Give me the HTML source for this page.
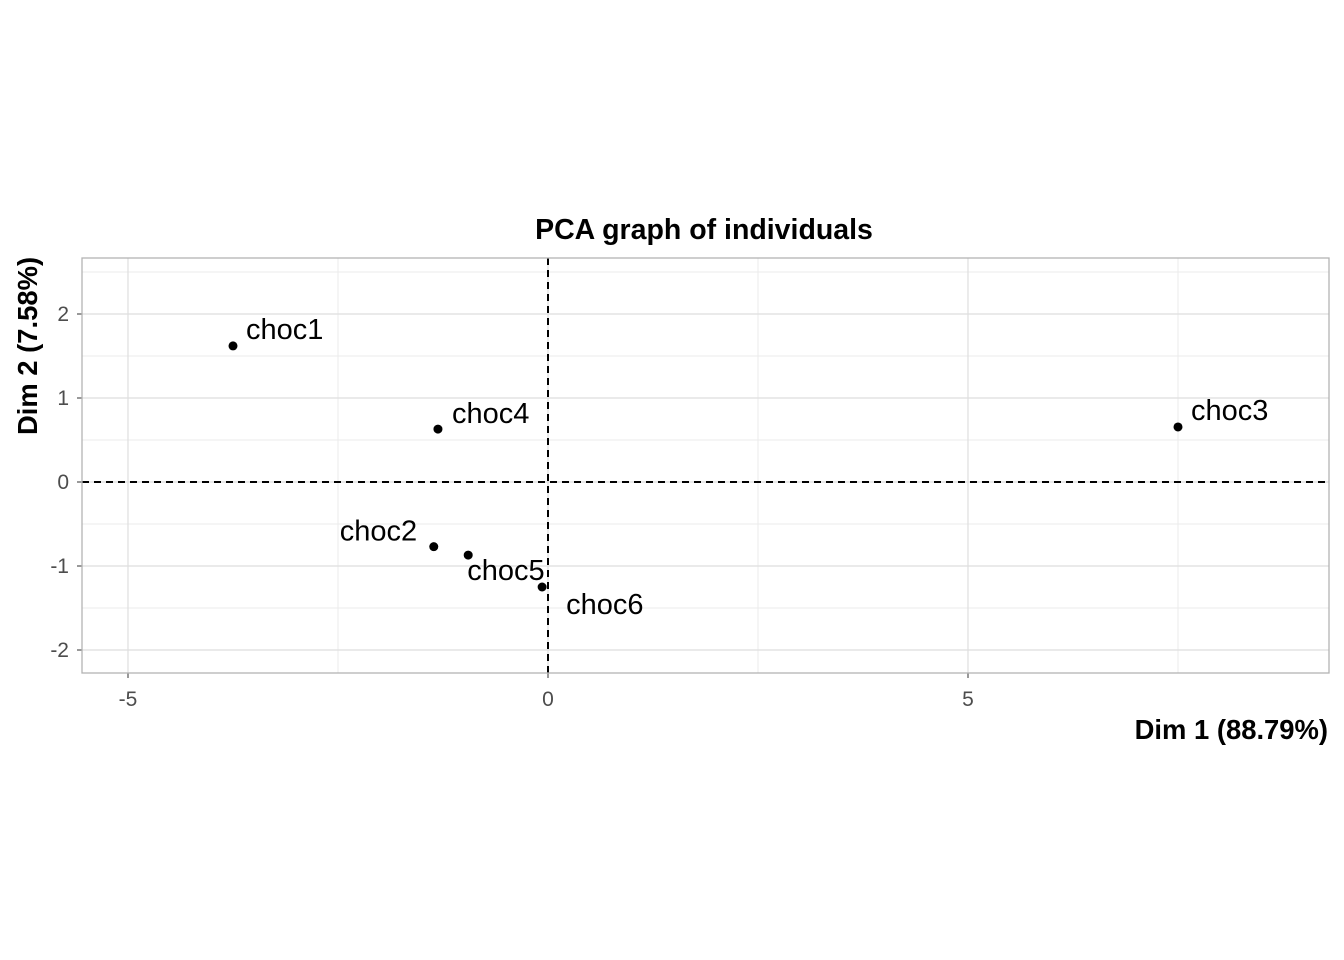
<!DOCTYPE html>
<html><head><meta charset="utf-8"><style>
html,body{margin:0;padding:0;background:#fff;}
svg{display:block;font-family:"Liberation Sans",Arial,sans-serif;}
</style></head><body>
<svg id="chart" width="1344" height="960" viewBox="0 0 1344 960" xmlns="http://www.w3.org/2000/svg">
<rect width="1344" height="960" fill="#fff"/>
<text x="704" y="239" text-anchor="middle" font-size="28.5" font-weight="bold">PCA graph of individuals</text>
<g id="grid"></g>
<g id="ticks"></g>
<g id="marks"></g>
<rect x="82" y="258" width="1247" height="415" fill="none" stroke="#b3b3b3" stroke-width="1.3"/>
<text x="1328" y="739" text-anchor="end" font-size="27.4" font-weight="bold">Dim 1 (88.79%)</text>
<text transform="translate(37,346) rotate(-90)" text-anchor="middle" font-size="27.4" font-weight="bold">Dim 2 (7.58%)</text>
</svg>
<script>
const names = ["choc1","choc2","choc3","choc4","choc5","choc6"];
const dim1 = [-3.75,-1.36,7.5,-1.31,-0.95,-0.07];
const dim2 = [1.62,-0.77,0.655,0.63,-0.87,-1.25];
const labelDx = [13,-94,13,14,-1,24];
const labelDy = [-7,-6,-7,-6,25,27];
const xTicks = [-5,0,5];
const yTicks = [-2,-1,0,1,2];
const xMinor = [-2.5,2.5,7.5];
const yMinor = [-1.5,-0.5,0.5,1.5,2.5];

const X0=82,X1=1329,Y0=258,Y1=673;
const sx=v=>548+v*84;
const sy=v=>482-v*84;
const NS="http://www.w3.org/2000/svg";
function mk(t,a,p){const e=document.createElementNS(NS,t);for(const k in a)e.setAttribute(k,a[k]);p.appendChild(e);return e;}
const grid=document.getElementById('grid'),ticks=document.getElementById('ticks'),marks=document.getElementById('marks');
xMinor.forEach(v=>{const l=mk('line',{x1:sx(v),x2:sx(v),y1:Y0,y2:Y1,stroke:'#ebebeb','stroke-width':1},grid);

});
yMinor.forEach(v=>{const l=mk('line',{x1:X0,x2:X1,y1:sy(v),y2:sy(v),stroke:'#ebebeb','stroke-width':1},grid);

});
xTicks.forEach(v=>{const l=mk('line',{x1:sx(v),x2:sx(v),y1:Y0,y2:Y1,stroke:'#dedede','stroke-width':1.2},grid);


mk('line',{x1:sx(v),x2:sx(v),y1:Y1,y2:Y1+5,stroke:'#333','stroke-width':1},ticks);
const t=mk('text',{x:sx(v),y:706,'text-anchor':'middle','font-size':21,fill:'#4d4d4d'},ticks);t.textContent=v;

});
yTicks.forEach(v=>{const l=mk('line',{x1:X0,x2:X1,y1:sy(v),y2:sy(v),stroke:'#dedede','stroke-width':1.2},grid);


mk('line',{x1:X0-5,x2:X0,y1:sy(v),y2:sy(v),stroke:'#333','stroke-width':1},ticks);
const t=mk('text',{x:69,y:sy(v)+7,'text-anchor':'end','font-size':21,fill:'#4d4d4d'},ticks);t.textContent=v;

});
const h=mk('line',{x1:X0,x2:X1,y1:sy(0),y2:sy(0),stroke:'#000','stroke-width':2,'stroke-dasharray':'7,5'},marks);


const vl=mk('line',{x1:sx(0),x2:sx(0),y1:Y0,y2:Y1,stroke:'#000','stroke-width':2,'stroke-dasharray':'7,5'},marks);


names.forEach((n,i)=>{
const c=mk('circle',{cx:sx(dim1[i]),cy:sy(dim2[i]),r:4.5,fill:'#000'},marks);


const t=mk('text',{x:sx(dim1[i])+labelDx[i],y:sy(dim2[i])+labelDy[i],'font-size':29,fill:'#000'},marks);t.textContent=n;


});
</script>
</body></html>
